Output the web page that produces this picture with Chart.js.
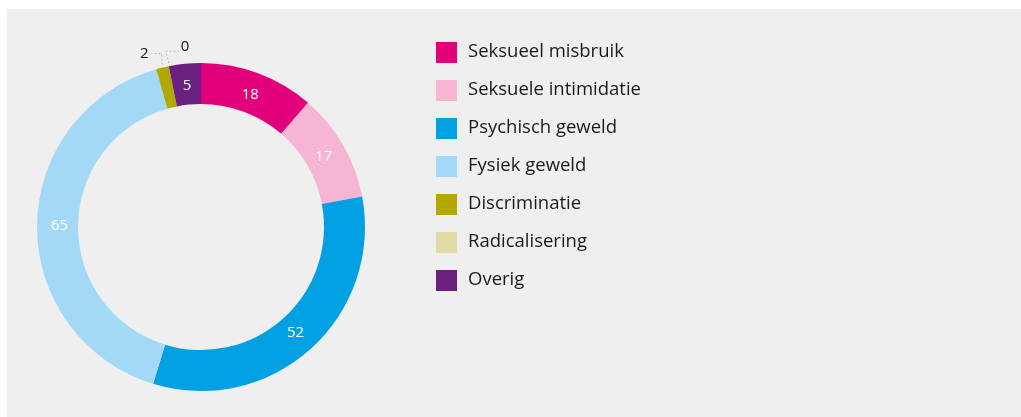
<!DOCTYPE html>
<html>
<head>
<meta charset="utf-8">
<script src="https://cdn.jsdelivr.net/npm/chart.js@4/dist/chart.umd.min.js"></script>
<style>
  html, body { margin: 0; padding: 0; background: #fff; }
  #panel { position: absolute; left: 7px; top: 9px; width: 1014px; height: 408px; background: #efefef; }
  canvas { display: block; }
</style>
</head>
<body>
<div id="panel"><canvas id="meldingenChart" width="1014" height="408"></canvas></div>
<script>
const categories = [
  "Seksueel misbruik",
  "Seksuele intimidatie",
  "Psychisch geweld",
  "Fysiek geweld",
  "Discriminatie",
  "Radicalisering",
  "Overig"
];
const values = [18, 17, 52, 65, 2, 0, 5];
const colors = ["#e3007b", "#f6b5d2", "#00a0e2", "#a3d9f6", "#b3a800", "#e1dba6", "#6a207f"];

const FONT = "'Open Sans', 'Noto Sans', sans-serif";

// labels in de ring, kleine waarden buiten met stippellijn
const sliceLabels = {
  id: "sliceLabels",
  afterDatasetsDraw(chart) {
    const ctx = chart.ctx;
    const meta = chart.getDatasetMeta(0);
    ctx.save();
    ctx.font = "15px " + FONT;
    ctx.textBaseline = "middle";
    meta.data.forEach((arc, i) => {
      const v = values[i];
      if (v >= 5) {
        const mid = (arc.startAngle + arc.endAngle) / 2;
        const r = (arc.innerRadius + arc.outerRadius) / 2 - 2;
        ctx.fillStyle = "#ffffff";
        ctx.textAlign = "center";
        ctx.fillText(String(v), arc.x + Math.cos(mid) * r, arc.y + Math.sin(mid) * r);
      } else {
        const mid = (arc.startAngle + arc.endAngle) / 2;
        const px = arc.x + Math.cos(mid) * arc.outerRadius;
        const py = arc.y + Math.sin(mid) * arc.outerRadius;
        const left = i % 2 === 0;
        const up = left ? 14 : 15;
        const run = left ? 10 : 13;
        ctx.strokeStyle = "#b8b8b8";
        ctx.lineWidth = 1;
        ctx.setLineDash([2, 2]);
        ctx.beginPath();
        ctx.moveTo(px, py - 3);
        ctx.lineTo(px - (left ? 1 : 3), py - up);
        ctx.lineTo(px - (left ? 1 + run : 3 - run), py - up);
        ctx.stroke();
        ctx.setLineDash([]);
        ctx.fillStyle = "#111111";
        ctx.textAlign = left ? "right" : "left";
        ctx.fillText(String(v), px - (left ? 1 + run + 3 : 3 - run - 2), py - up - (left ? 0 : 4));
      }
    });
    ctx.restore();
  }
};

const sideLegend = {
  id: "sideLegend",
  afterDraw(chart) {
    const ctx = chart.ctx;
    ctx.save();
    ctx.font = "18.5px " + FONT;
    ctx.textBaseline = "middle";
    ctx.textAlign = "left";
    categories.forEach((label, i) => {
      const y = 33 + i * 38;
      ctx.fillStyle = colors[i];
      ctx.fillRect(429, y, 21, 21);
      ctx.fillStyle = "#1a1a1a";
      ctx.fillText(label, 461, y + 10);
    });
    ctx.restore();
  }
};

new Chart(document.getElementById("meldingenChart").getContext("2d"), {
  type: "doughnut",
  data: {
    labels: categories,
    datasets: [
      {
        data: values,
        backgroundColor: colors,
        borderWidth: 0
      }
    ]
  },
  options: {
    responsive: false,
    animation: false,
    cutout: "75%",
    layout: {
      padding: { left: 30, top: 54, right: 656, bottom: 26 }
    },
    plugins: {
      legend: { display: false },
      tooltip: { enabled: false }
    }
  },
  plugins: [sliceLabels, sideLegend]
});
</script>
</body>
</html>
